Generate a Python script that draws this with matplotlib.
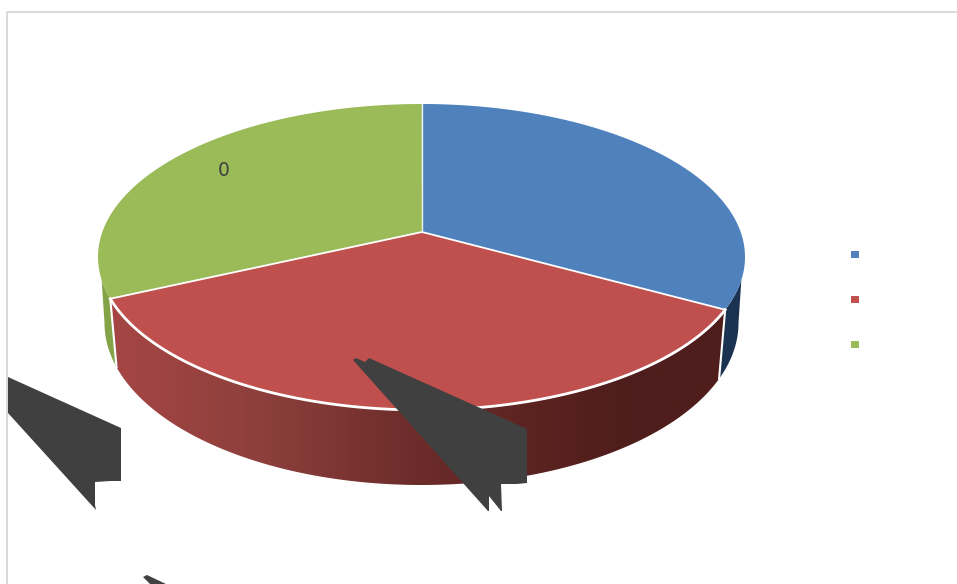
import numpy as np
from matplotlib import pyplot as plt
from matplotlib.colors import LinearSegmentedColormap
from matplotlib.patches import Polygon, Rectangle

categories = ['', '', '']
shares = [30.6, 40.0, 29.4]
top_colors = ['#4F81BD', '#C0504D', '#9BBB59']
wall_colors = ['#1B3350', None, '#84A349']
point_label = '0'

# pie geometry in figure pixels
CX = 421.5
TOP_CY, TOP_RX, TOP_RY = 257, 323.5, 153
BOT_CY, BOT_RX, BOT_RY = 323, 317, 162
APEX = (422, 232)

# leader callouts of the data labels
CALLOUT_LEFT = [(8, 377), (121, 428), (121, 481), (111, 481), (95, 482), (95, 505),
                (96, 510), (8, 413)]
CALLOUT_MID = [(353, 360), (356, 358), (365, 362), (369, 358), (527, 429), (527, 483),
               (517, 484), (501, 484), (502, 511), (501, 511), (489, 496), (489, 511),
               (488, 511)]
CALLOUT_BOTTOM = [(143, 577), (147, 575), (168, 585), (151, 585)]

WALL_STOPS = [(0.0, '#A54644'), (0.25, '#8C3F3C'), (0.50, '#6C2C2A'),
              (0.70, '#5A2320'), (0.85, '#4E1D1C'), (1.0, '#4E1D1C')]


def arc(theta_start, theta_end, cy, rx, ry, n=120):
    theta = np.radians(np.linspace(theta_start, theta_end, n))
    return np.column_stack((CX + rx * np.sin(theta), cy - ry * np.cos(theta)))


def top_arc(a, b):
    return arc(a, b, TOP_CY, TOP_RX, TOP_RY)


def bottom_arc(a, b):
    return arc(a, b, BOT_CY, BOT_RX, BOT_RY)


fig = plt.figure(figsize=(9.57, 5.84), dpi=100)
ax = fig.add_axes([0, 0, 1, 1])
ax.set_axis_off()

ax.plot([7, 7, 957], [584, 12, 12], color='#D9D9D9', lw=1.4, zorder=1)

bounds = np.concatenate(([0], np.cumsum(shares))) / np.sum(shares) * 360
b_blue, b_red = bounds[1], bounds[2]

# side walls
blue_wall = np.vstack((top_arc(98.6, b_blue), bottom_arc(b_blue, 90)))
ax.add_patch(Polygon(blue_wall, facecolor=wall_colors[0], edgecolor='none', zorder=2))
green_wall = np.vstack((top_arc(b_red, 261.4), bottom_arc(270, b_red)))
ax.add_patch(Polygon(green_wall, facecolor=wall_colors[2], edgecolor='none', zorder=2))

red_wall = np.vstack((top_arc(b_blue, b_red), bottom_arc(b_red, b_blue)))
red_patch = Polygon(red_wall, facecolor='none', edgecolor='none', zorder=2)
ax.add_patch(red_patch)
x0, x1 = red_wall[:, 0].min(), red_wall[:, 0].max()
cmap = LinearSegmentedColormap.from_list('wall', WALL_STOPS)
grad = ax.imshow(np.linspace(0, 1, 400).reshape(1, -1), cmap=cmap, aspect='auto',
                 extent=(x0, x1, 490, 290), zorder=2)
grad.set_clip_path(red_patch)

# top faces
for i in range(3):
    face = np.vstack(([APEX], top_arc(bounds[i], bounds[i + 1])))
    ax.add_patch(Polygon(face, facecolor=top_colors[i], edgecolor='none', zorder=3))

# white seams
for b in (b_blue, b_red):
    p = top_arc(b, b)[0]
    q = bottom_arc(b, b)[0]
    ax.plot([p[0], q[0]], [p[1], q[1]], color='white', lw=1.5, zorder=4)
    ax.plot([APEX[0], p[0]], [APEX[1], p[1]], color='white', lw=1.3, zorder=4)
ax.plot([APEX[0], APEX[0]], [APEX[1], TOP_CY - TOP_RY], color='#EEF2E6', lw=1.0, zorder=4)
red_rim = top_arc(b_blue, b_red)
ax.plot(red_rim[:, 0], red_rim[:, 1], color='white', lw=2.0, zorder=4)

for pts in (CALLOUT_LEFT, CALLOUT_MID, CALLOUT_BOTTOM):
    ax.add_patch(Polygon(pts, facecolor='#404040', edgecolor='none', zorder=5))

ax.text(223.5, 170, point_label, color='#404040', fontsize=13.5, family='DejaVu Sans',
        ha='center', va='center', zorder=6)

# legend swatches, labels are empty
for i, (label, color) in enumerate(zip(categories, top_colors)):
    y = 254 + i * 45
    ax.add_patch(Rectangle((851, y - 3.5), 7.5, 7.5, facecolor=color, edgecolor='none', zorder=3))
    ax.text(864, y, label, va='center', fontsize=10)

ax.set_xlim(0, 957)
ax.set_ylim(584, 0)
fig.savefig('out.png', dpi=100, facecolor='white')
